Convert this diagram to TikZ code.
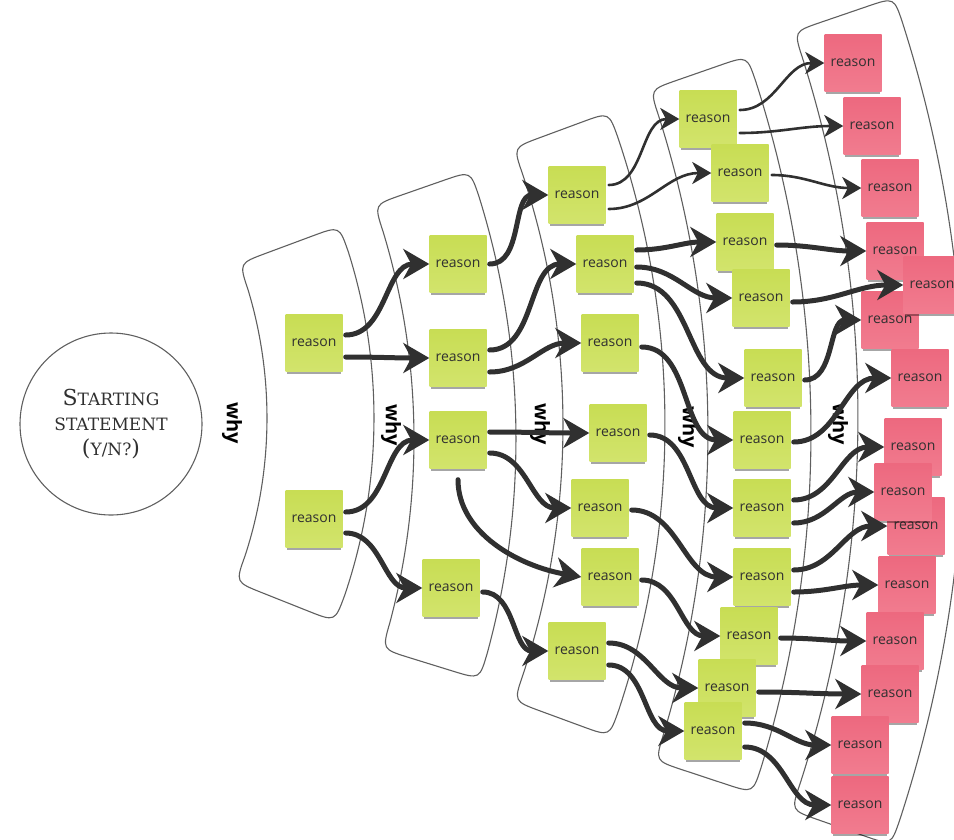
\documentclass[tikz,border=0pt]{standalone}
\usepackage{fontspec}
\newfontfamily\notefont{Open Sans}
\newfontfamily\slabfont{DejaVu Serif}
\usetikzlibrary{arrows.meta,shadows}
\definecolor{notegreen}{RGB}{200,221,84}
\definecolor{notegreenlight}{RGB}{210,228,108}
\definecolor{notered}{RGB}{237,105,127}
\definecolor{noteredlight}{RGB}{241,124,143}
\definecolor{ink}{RGB}{48,48,48}
\definecolor{rim}{RGB}{95,95,95}
\newcommand{\cornerr}{28}
\newcommand{\capbig}[1]{{\fontsize{22}{25}\selectfont #1}}
\newcommand{\ripple}[6]{%
  \draw [rim, line width=1.1pt, shift={(#1,#2)}]
    ({#6-\cornerr/#3*57.3}:#3) arc [start angle={#6-\cornerr/#3*57.3}, end angle={#5+\cornerr/#3*57.3}, radius=#3]
    .. controls (#5:#3) .. ({#5}:{#3+\cornerr}) -- ({#5}:{#4-\cornerr})
    .. controls (#5:#4) .. ({#5+\cornerr/#4*57.3}:#4)
    arc [start angle={#5+\cornerr/#4*57.3}, end angle={#6-\cornerr/#4*57.3}, radius=#4]
    .. controls (#6:#4) .. ({#6}:{#4-\cornerr}) -- ({#6}:{#3+\cornerr})
    .. controls (#6:#3) .. cycle;}
\begin{document}
\begin{tikzpicture}[x=1pt,y=1pt]
      \tikzstyle{every node}+=[inner sep=0pt]
      \tikzstyle{note}=[minimum size=57pt, text=ink, font=\notefont\fontsize{14}{16}\selectfont, general shadow={fill=black, opacity=.35, shadow yshift=-4.5pt, shadow scale=.94}]
      \tikzstyle{greennote}=[note, top color=notegreen, bottom color=notegreenlight]
      \tikzstyle{rednote}=[note, top color=notered, bottom color=noteredlight]
      \tikzstyle{whylabel}=[rotate=-90, text=black, font=\notefont\bfseries\fontsize{20}{20}\selectfont]
      \tikzstyle{flow}=[ink, line width=5pt, line cap=round, shorten <=3pt, -{Stealth[length=26pt,width=30pt,inset=8pt]}]
      \tikzstyle{thinflow}=[ink, line width=2.6pt, line cap=round, shorten <=3pt, -{Stealth[length=19pt,width=22pt,inset=5.5pt]}]
      \useasboundingbox (0,0) rectangle (954,-839);
      \ripple{-177}{-418}{444}{551}{-21.7}{20.4}
      \ripple{-297}{-439}{711}{813}{-17.2}{19.25}
      \ripple{-237}{-425}{800}{902}{-20.2}{20.3}
      \ripple{-336}{-433}{1044}{1147}{-18.3}{19.2}
      \ripple{-332}{-417}{1190}{1296}{-19.3}{18.9}
      \node [whylabel] (why1) at (232,-423) {why};
      \node [whylabel] (why2) at (391,-425) {why};
      \node [whylabel] (why3) at (540,-424) {why};
      \node [whylabel] (why4) at (688,-427) {why};
      \node [whylabel] (why5) at (838,-424) {why};
      \node [draw=rim, line width=1.1pt, circle, minimum size=182pt, align=center, text=ink, font=\slabfont\fontsize{17}{25}\selectfont] (start) at (111,-424) {\capbig{S}TARTING\\STATEMENT\\\capbig{(}Y/N?\capbig{)}};
      \node [greennote] (a1) at (314,-343) {reason};
      \node [greennote] (a2) at (314,-519) {reason};
      \node [greennote] (b1) at (458,-264) {reason};
      \node [greennote] (b2) at (458,-358) {reason};
      \node [greennote] (b3) at (458,-440) {reason};
      \node [greennote] (b4) at (451,-588) {reason};
      \node [greennote] (c1) at (577,-195) {reason};
      \node [greennote] (c2) at (605,-264) {reason};
      \node [greennote] (c3) at (610,-343) {reason};
      \node [greennote] (c4) at (618,-433) {reason};
      \node [greennote] (c5) at (600,-508) {reason};
      \node [greennote] (c6) at (610,-577) {reason};
      \node [greennote] (c7) at (577,-651) {reason};
      \node [greennote] (d1) at (708,-119) {reason};
      \node [greennote] (d2) at (740,-173) {reason};
      \node [greennote] (d3) at (745,-242) {reason};
      \node [greennote] (d4) at (761,-298) {reason};
      \node [greennote] (d5) at (773,-378) {reason};
      \node [greennote] (d6) at (762,-440) {reason};
      \node [greennote] (d7) at (762,-508) {reason};
      \node [greennote] (d8) at (762,-577) {reason};
      \node [greennote] (d9) at (749,-636) {reason};
      \node [greennote] (d10) at (727,-688) {reason};
      \node [greennote] (d11) at (713,-731) {reason};
      \node [rednote] (e1) at (853,-63) {reason};
      \node [rednote] (e2) at (872,-126) {reason};
      \node [rednote] (e3) at (890,-188) {reason};
      \node [rednote] (e4) at (895,-251) {reason};
      \node [rednote] (e6) at (890,-320) {reason};
      \node [rednote] (e5) at (932,-285) {reason};
      \node [rednote] (e7) at (920,-378) {reason};
      \node [rednote] (e8) at (913,-447) {reason};
      \node [rednote] (e10) at (916,-526) {reason};
      \node [rednote] (e9) at (903,-492) {reason};
      \node [rednote] (e11) at (907,-585) {reason};
      \node [rednote] (e12) at (895,-641) {reason};
      \node [rednote] (e13) at (890,-694) {reason};
      \node [rednote] (e14) at (860,-745) {reason};
      \node [rednote] (e15) at (860,-805) {reason};
      \draw [flow] ([yshift=8pt]a1.east) to [out=0, in=180] (b1.west);
      \draw [flow] ([yshift=-14pt]a1.east) to [out=0, in=180] (b2.west);
      \draw [flow] ([yshift=7pt]a2.east) to [out=0, in=180] (b3.west);
      \draw [flow] ([yshift=-14pt]a2.east) to [out=0, in=180] (b4.west);
      \draw [flow] (b1.east) to [out=0, in=180] (c1.west);
      \draw [flow] ([yshift=8pt]b2.east) to [out=0, in=180] (c2.west);
      \draw [flow] ([yshift=-14pt]b2.east) to [out=0, in=180] (c3.west);
      \draw [flow] ([yshift=8pt]b3.east) to [out=0, in=180] (c4.west);
      \draw [flow] ([yshift=-13pt]b3.east) to [out=0, in=180] (c5.west);
      \draw [flow, shorten <=11pt] (b3.south) to [out=-90, in=170] (c6.west);
      \draw [flow] ([yshift=-4pt]b4.east) to [out=0, in=180] (c7.west);
      \draw [thinflow] ([yshift=10pt]c1.east) to [out=0, in=180] (d1.west);
      \draw [thinflow] ([yshift=-14pt]c1.east) to [out=0, in=180] (d2.west);
      \draw [flow] ([yshift=14pt]c2.east) to [out=0, in=180] (d3.west);
      \draw [flow] ([yshift=-3pt]c2.east) to [out=0, in=180] (d4.west);
      \draw [flow] ([yshift=-19pt]c2.east) to [out=0, in=180] (d5.west);
      \draw [flow] ([yshift=-4pt]c3.east) to [out=0, in=180] (d6.west);
      \draw [flow] ([yshift=-2pt]c4.east) to [out=0, in=180] (d7.west);
      \draw [flow] ([yshift=-2pt]c5.east) to [out=0, in=180] (d8.west);
      \draw [flow] ([yshift=-3pt]c6.east) to [out=0, in=180] (d9.west);
      \draw [flow] ([yshift=8pt]c7.east) to [out=0, in=180] (d10.west);
      \draw [flow] ([yshift=-14pt]c7.east) to [out=0, in=180] (d11.west);
      \draw [thinflow] ([yshift=9pt]d1.east) to [out=0, in=180] (e1.west);
      \draw [thinflow] ([yshift=-14pt]d1.east) to [out=0, in=180] (e2.west);
      \draw [thinflow] ([yshift=-2pt]d2.east) to [out=0, in=180] (e3.west);
      \draw [flow] ([yshift=-3pt]d3.east) to [out=0, in=180] (e4.west);
      \draw [flow] ([yshift=-4pt]d4.east) to [out=0, in=180] (e5.west);
      \draw [flow] ([yshift=-2pt]d5.east) to [out=0, in=180] (e6.west);
      \draw [flow] ([yshift=-2pt]d6.east) to [out=0, in=180] (e7.west);
      \draw [flow] ([yshift=8pt]d7.east) to [out=0, in=180] (e8.west);
      \draw [flow] ([yshift=-15pt]d7.east) to [out=0, in=180] (e9.west);
      \draw [flow] ([yshift=7pt]d8.east) to [out=0, in=180] (e10.west);
      \draw [flow] ([yshift=-15pt]d8.east) to [out=0, in=180] (e11.west);
      \draw [flow] ([yshift=-2pt]d9.east) to [out=0, in=180] (e12.west);
      \draw [flow] ([yshift=-4pt]d10.east) to [out=0, in=180] (e13.west);
      \draw [flow] ([yshift=8pt]d11.east) to [out=0, in=180] (e14.west);
      \draw [flow] ([yshift=-16pt]d11.east) to [out=0, in=180] (e15.west);
\end{tikzpicture}
\end{document}
